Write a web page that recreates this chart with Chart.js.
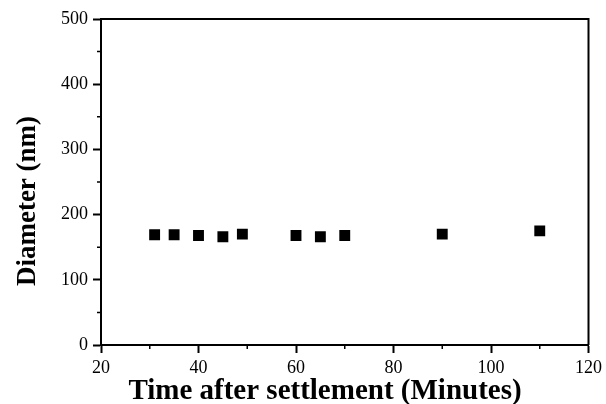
<!DOCTYPE html>
<html>
<head>
<meta charset="utf-8">
<script src="https://cdn.jsdelivr.net/npm/chart.js@4/dist/chart.umd.min.js"></script>
<style>
  html, body { margin: 0; padding: 0; background: #fff; }
  #wrap { width: 606px; height: 404px; }
</style>
</head>
<body>
<div id="wrap"><canvas id="grafico" width="606" height="404"></canvas></div>
<script>
// Tiempos (min) y diámetros (nm) medidos
const tiempos = [31, 35, 40, 45, 49, 60, 65, 70, 90, 110];
const diametros = [169, 169, 168, 166, 170, 168, 166, 168, 170, 175];

const ticksX = [20, 40, 60, 80, 100, 120];
const ticksY = [0, 100, 200, 300, 400, 500];
const menoresX = [30, 50, 70, 90, 110];
const menoresY = [50, 150, 250, 350, 450];

const tituloX = 'Time after settlement (Minutes)';
const tituloY = 'Diameter (nm)';

const serif = "'Liberation Serif', 'Times New Roman', serif";

// marco superior/derecho, marcas menores y títulos de ejes
const marco = {
    id: 'marco',
    afterDraw(chart) {
        const ctx = chart.ctx;
        const a = chart.chartArea;
        const sx = chart.scales.x;
        const sy = chart.scales.y;
        ctx.save();
        ctx.strokeStyle = '#000';
        ctx.lineWidth = 2;
        ctx.beginPath();
        ctx.moveTo(a.left, a.top);
        ctx.lineTo(a.right, a.top);
        ctx.lineTo(a.right, a.bottom);
        ctx.stroke();

        ctx.lineWidth = 1.5;
        ctx.beginPath();
        menoresX.forEach(v => {
            const px = sx.getPixelForValue(v);
            ctx.moveTo(px, a.bottom);
            ctx.lineTo(px, a.bottom + 4);
        });
        menoresY.forEach(v => {
            const py = sy.getPixelForValue(v);
            ctx.moveTo(a.left, py);
            ctx.lineTo(a.left - 4, py);
        });
        ctx.stroke();

        ctx.fillStyle = '#000';
        ctx.font = 'bold 29px ' + serif;
        ctx.textAlign = 'center';
        ctx.textBaseline = 'alphabetic';
        ctx.fillText(tituloX, 325, 399);

        ctx.translate(35, 201);
        ctx.rotate(-Math.PI / 2);
        ctx.font = 'bold 27px ' + serif;
        ctx.fillText(tituloY, 0, 0);
        ctx.restore();
    }
};

const ctx = document.getElementById('grafico').getContext('2d');
new Chart(ctx, {
    type: 'scatter',
    data: {
        datasets: [{
            data: tiempos.map((t, i) => ({ x: t, y: diametros[i] })),
            pointStyle: 'rect',
            pointRadius: 7.7,
            pointHoverRadius: 7.7,
            backgroundColor: '#000',
            borderColor: '#000',
            borderWidth: 0
        }]
    },
    options: {
        responsive: false,
        animation: false,
        layout: { padding: { top: 19, right: 17, left: 0, bottom: 0 } },
        plugins: {
            legend: { display: false },
            tooltip: { enabled: false }
        },
        scales: {
            x: {
                type: 'linear',
                min: 20,
                max: 120,
                afterBuildTicks: s => { s.ticks = ticksX.map(v => ({ value: v })); },
                afterFit: s => { s.height = 59; },
                border: { display: true, color: '#000', width: 2 },
                grid: { drawOnChartArea: false, tickLength: 8, tickColor: '#000', tickWidth: 2 },
                ticks: { color: '#000', padding: 4, font: { family: serif, size: 18 } }
            },
            y: {
                type: 'linear',
                min: 0,
                max: 500,
                afterBuildTicks: s => { s.ticks = ticksY.map(v => ({ value: v })); },
                afterFit: s => { s.width = 101; },
                border: { display: true, color: '#000', width: 2 },
                grid: { drawOnChartArea: false, tickLength: 8, tickColor: '#000', tickWidth: 2 },
                ticks: { color: '#000', padding: 5, font: { family: serif, size: 18 } }
            }
        }
    },
    plugins: [marco]
});
</script>
</body>
</html>
